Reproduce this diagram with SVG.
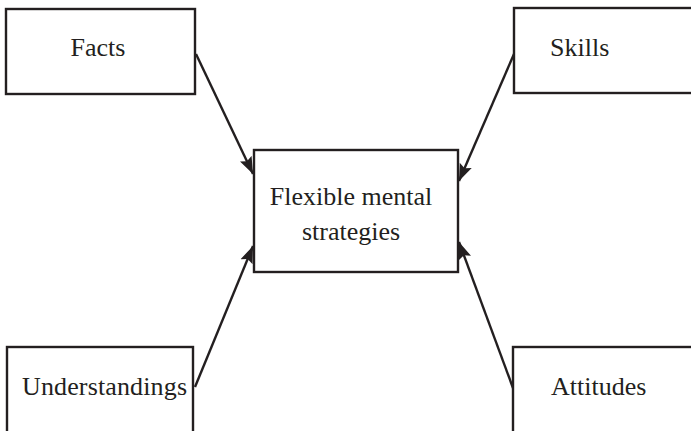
<svg xmlns="http://www.w3.org/2000/svg" width="691" height="431" viewBox="0 0 691 431">
<style>
rect.box{fill:#fff;stroke:#231f20;stroke-width:2.4}
text{font-family:"Liberation Serif","Times New Roman",serif;font-size:26px;fill:#231f20}
.conn line{stroke:#231f20;stroke-width:2.4;marker-end:url(#ah)}
</style>
<defs>
<marker id="ah" markerUnits="userSpaceOnUse" markerWidth="20" markerHeight="14" refX="17" refY="6.5" orient="auto" viewBox="0 0 20 13">
<path d="M0,0 L17,6.5 L0,13 L3,6.5 Z" fill="#231f20"/>
</marker>
</defs>
<rect width="691" height="431" fill="#fff"/>
<g id="facts"><rect class="box" x="6" y="9" width="189" height="85"/><text x="98" y="56" text-anchor="middle">Facts</text></g>
<g id="skills"><rect class="box" x="514" y="8" width="190" height="85"/><text x="550" y="56">Skills</text></g>
<g id="understandings"><rect class="box" x="7" y="347" width="186" height="100"/><text x="22" y="395" textLength="165">Understandings</text></g>
<g id="attitudes"><rect class="box" x="513" y="347" width="190" height="100"/><text x="551" y="395">Attitudes</text></g>
<g id="center"><rect class="box" x="254" y="150" width="204" height="122"/><text x="351" y="205" text-anchor="middle">Flexible mental</text><text x="351" y="240" text-anchor="middle">strategies</text></g>
<g class="conn" id="connectors">
<line x1="196" y1="54" x2="253" y2="174"/>
<line x1="514" y1="54" x2="459" y2="181"/>
<line x1="195" y1="387" x2="253" y2="246"/>
<line x1="513" y1="388" x2="459" y2="242"/>
</g>
</svg>
